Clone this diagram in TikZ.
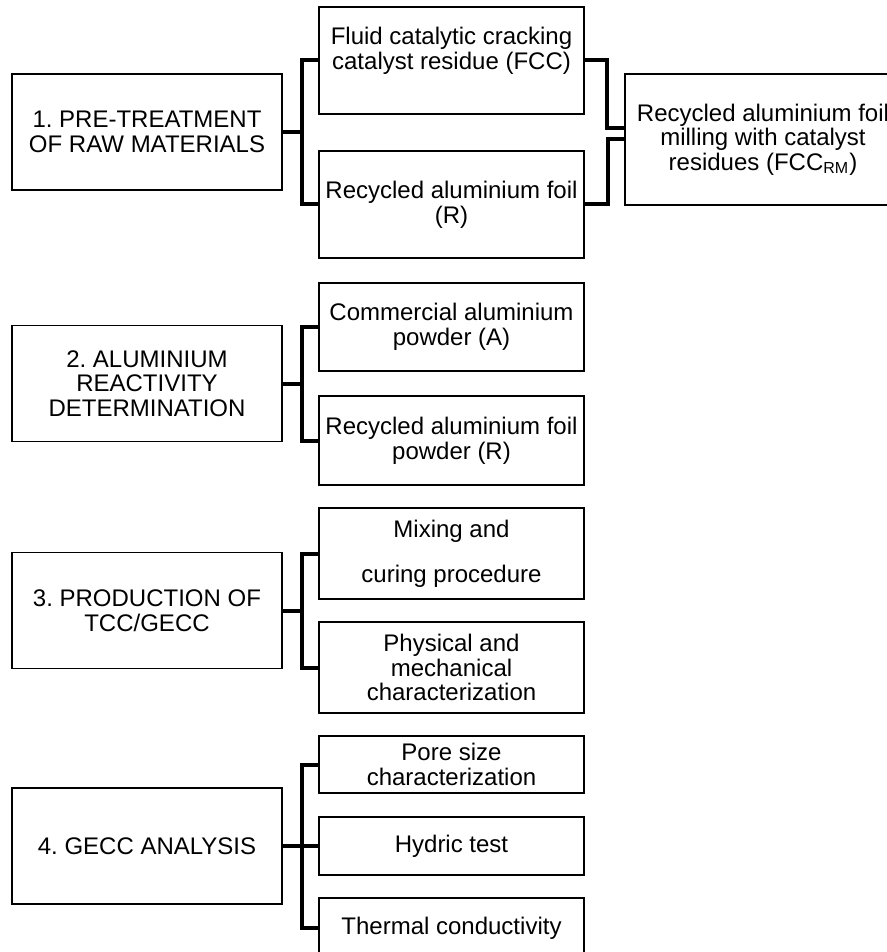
\documentclass[tikz,border=0pt]{standalone}
\usepackage{fontspec}
\setmainfont{Liberation Sans}
\frenchspacing
\usetikzlibrary{positioning,calc}

\begin{document}
\begin{tikzpicture}[
 x=0.5pt, y=-0.5pt,
 stage/.style={rectangle, draw, line width=0.9pt, minimum width=135pt, minimum height=58pt, align=center, inner sep=1pt, font=\fontsize{12}{12.3}\selectfont},
 task/.style={rectangle, draw, line width=0.9pt, minimum width=132.5pt, align=center, inner sep=1pt, font=\fontsize{12}{12.3}\selectfont},
 bracket/.style={line width=2pt, line join=miter}
]
\useasboundingbox (0,0) rectangle (887,952);

% Stage 1
\node[stage] (pre) at (147,132) {1. PRE-TREATMENT\\OF RAW MATERIALS};
\node[task, minimum height=53.5pt] (fcc) at (451.5,60.5) {Fluid catalytic cracking\\catalyst residue (FCC)\\\mbox{}};
\node[task, minimum height=53.5pt] (foil) at (451.5,204.5) {Recycled aluminium foil\\(R)};
\node[task, minimum width=138pt, minimum height=65.5pt] (mill) at (763,139.5) {Recycled aluminium foil\\milling with catalyst\\residues (FCC\textsubscript{RM})};

% Stage 2
\node[stage] (react) at (147,383.5) {2. ALUMINIUM\\REACTIVITY\\DETERMINATION};
\node[task, minimum height=44pt] (comm) at (451.5,327) {Commercial aluminium\\powder (A)};
\node[task, minimum height=44.5pt] (powd) at (451.5,440.5) {Recycled aluminium foil\\powder (R)};

% Stage 3
\node[stage] (prod) at (147,610.5) {3. PRODUCTION OF\\TCC/GECC};
\node[task, minimum height=45.5pt] (mix) at (451.5,553.5) {Mixing and\\[10pt]curing procedure};
\node[task, minimum height=45.5pt] (phys) at (451.5,667.5) {Physical and\\mechanical\\characterization};

% Stage 4
\node[stage] (anal) at (147,846) {4. GECC ANALYSIS};
\node[task, minimum height=28.5pt] (pore) at (451.5,764.5) {Pore size\\characterization};
\node[task, minimum height=29pt] (hydr) at (451.5,846) {Hydric test};
\node[task, minimum height=30pt] (therm) at (451.5,928) {Thermal conductivity};

% Brackets
\draw[bracket] (pre.east) -- ++(19,0) |- (fcc.west);
\draw[bracket] (pre.east) -- ++(19,0) |- (foil.west);
\draw[bracket] (react.east) -- ++(19,0) |- (comm.west);
\draw[bracket] (react.east) -- ++(19,0) |- (powd.west);
\draw[bracket] (prod.east) -- ++(19,0) |- (mix.west);
\draw[bracket] (prod.east) -- ++(19,0) |- (phys.west);
\draw[bracket] (anal.east) -- ++(19,0) |- (pore.west);
\draw[bracket] (anal.east) -- (hydr.west);
\draw[bracket] (anal.east) -- ++(19,0) |- (therm.west);

% Milling inputs
\coordinate (millin) at ($(mill.west)+(0,-11.5)$);
\draw[bracket] (fcc.east) -- ++(22,0) |- (millin);
\draw[bracket] (foil.east) -- ++(23,0) |- (mill.west);

\end{tikzpicture}
\end{document}
